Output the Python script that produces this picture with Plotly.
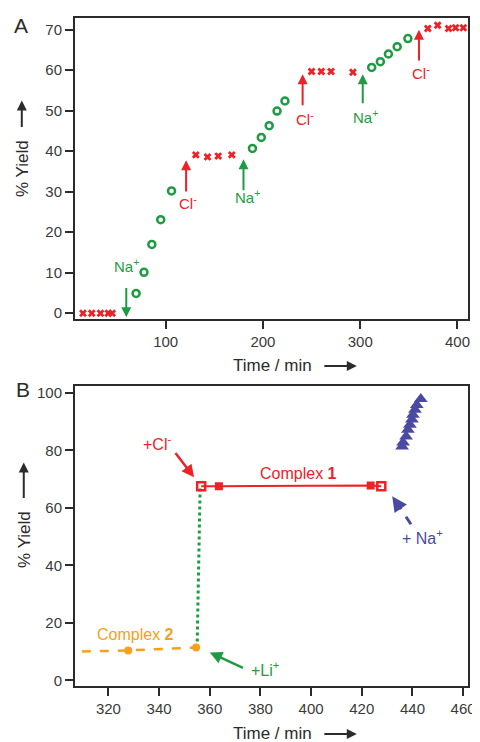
import plotly.graph_objects as go

# ---- Panel A data ----
a_cl_x = [15, 24, 33, 41, 45, 131, 143, 154, 168, 250, 260, 270, 292.5, 369.5, 379.6, 390.8, 398, 406]
a_cl_y = [0, 0, 0, 0, 0, 39.1, 38.6, 38.8, 39.1, 59.7, 59.7, 59.7, 59.5, 70.3, 71.1, 70.3, 70.5, 70.5]
a_na_x = [69.6, 77.7, 85.8, 94.9, 106, 189.2, 198.3, 206.4, 214.5, 222.6, 311.8, 320.7, 329, 338, 349]
a_na_y = [4.9, 10.1, 17, 23.1, 30.2, 40.7, 43.4, 46.3, 49.9, 52.4, 60.7, 62.1, 64, 65.8, 67.8]

# additions in panel A: x, tail y, tip y, label position, ion
a_add_x = [59.5, 121, 180, 240.8, 302.6, 360.4]
a_add_tail = [6.6, 29.7, 30, 51, 51.5, 62]
a_add_tip = [-1, 37.8, 38, 59, 59, 70]
a_lab_x = [60, 123, 184, 243, 305.7, 362]
a_lab_y = [11.8, 27.3, 28.7, 48.2, 48.6, 59.5]
a_ion = ['Na', 'Cl', 'Na', 'Cl', 'Na', 'Cl']

# ---- Panel B data ----
c1_x = [356.6, 363.6, 423.5, 427.7]
c1_y = [67.5, 67.5, 67.8, 67.5]
c2_x = [309.5, 327.8, 354.6]
c2_y = [10.0, 10.4, 11.4]
li_x = [355.0, 356.2]
li_y = [11.4, 67.5]
tri_x = [443.3, 441.7, 441.0, 440.2, 439.8, 439.0, 438.2, 437.5, 436.3, 435.9]
tri_y = [97.9, 95.8, 94.1, 92.4, 90.7, 88.9, 87.2, 84.8, 82.7, 81.3]

RED = '#ec2227'
GREEN = '#1e9b43'
ORANGE = '#f6a01e'
BLUE = '#4a4aa2'
DARK = '#2b2b2b'
TXT = '#3a3a3a'
FONT = 'Liberation Sans, Arial, sans-serif'

W, H = 480, 742
OFF = 8  # the page body margin shifts the figure by 8px


def px(x):
    return (x - OFF) / W


def py(y):
    return 1 - (y - OFF) / H


fig = go.Figure()

# Panel A
fig.add_trace(go.Scatter(x=a_cl_x, y=a_cl_y, mode='markers', xaxis='x', yaxis='y',
                         marker=dict(symbol='x', size=7, color=RED, line=dict(width=0))))
fig.add_trace(go.Scatter(x=a_na_x, y=a_na_y, mode='markers', xaxis='x', yaxis='y',
                         marker=dict(symbol='circle-open', size=7, color=GREEN, line=dict(width=2.5))))

# Panel B
fig.add_trace(go.Scatter(x=li_x, y=li_y, mode='lines', xaxis='x2', yaxis='y2',
                         line=dict(color=GREEN, width=3, dash='dot')))
fig.add_trace(go.Scatter(x=c1_x, y=c1_y, mode='lines', xaxis='x2', yaxis='y2',
                         line=dict(color=RED, width=2)))
fig.add_trace(go.Scatter(x=[c1_x[1], c1_x[2]], y=[c1_y[1], c1_y[2]], mode='markers', xaxis='x2', yaxis='y2',
                         marker=dict(symbol='square', size=8, color=RED)))
fig.add_trace(go.Scatter(x=[c1_x[0], c1_x[3]], y=[c1_y[0], c1_y[3]], mode='markers', xaxis='x2', yaxis='y2',
                         marker=dict(symbol='square-open', size=8, color=RED, line=dict(width=2.5))))
fig.add_trace(go.Scatter(x=c2_x, y=c2_y, mode='lines', xaxis='x2', yaxis='y2',
                         line=dict(color=ORANGE, width=2.5, dash='dash')))
fig.add_trace(go.Scatter(x=c2_x[1:], y=c2_y[1:], mode='markers', xaxis='x2', yaxis='y2',
                         marker=dict(symbol='circle', size=8, color=ORANGE)))
fig.add_trace(go.Scatter(x=tri_x, y=tri_y, mode='markers', xaxis='x2', yaxis='y2',
                         marker=dict(symbol='triangle-up', size=12, color=BLUE)))
# dashed shaft of the Na+ arrow
fig.add_trace(go.Scatter(x=[439.4, 434.0], y=[54.3, 61.5], mode='lines', xaxis='x2', yaxis='y2',
                         line=dict(color=BLUE, width=3, dash='dash')))

ann = []
for x, t0, t1, lx, ly, ion in zip(a_add_x, a_add_tail, a_add_tip, a_lab_x, a_lab_y, a_ion):
    col = GREEN if ion == 'Na' else RED
    sign = '+' if ion == 'Na' else '-'
    ann.append(dict(x=x, y=t1, ax=x, ay=t0, xref='x', yref='y', axref='x', ayref='y',
                    showarrow=True, arrowhead=2, arrowsize=1, arrowwidth=2, arrowcolor=col, text=''))
    ann.append(dict(x=lx, y=ly, xref='x', yref='y', showarrow=False,
                    text=f'{ion}<sup>{sign}</sup>', font=dict(size=15, color=col, family=FONT)))

# Panel B arrows and labels
ann.append(dict(x=353.8, y=70.6, ax=346, ay=79.6, xref='x2', yref='y2', axref='x2', ayref='y2',
                showarrow=True, arrowhead=2, arrowsize=1, arrowwidth=2.5, arrowcolor=RED, text=''))
ann.append(dict(x=339, y=82.7, xref='x2', yref='y2', showarrow=False,
                text='+Cl<sup>-</sup>', font=dict(size=16, color=RED, family=FONT)))
ann.append(dict(x=360, y=9.7, ax=373.7, ay=4.1, xref='x2', yref='y2', axref='x2', ayref='y2',
                showarrow=True, arrowhead=2, arrowsize=1, arrowwidth=2.5, arrowcolor=GREEN, text=''))
ann.append(dict(x=375.6, y=4.1, xref='x2', yref='y2', showarrow=False, xanchor='left',
                text='+Li<sup>+</sup>', font=dict(size=16, color=GREEN, family=FONT)))
ann.append(dict(x=432, y=64, ax=434.2, ay=61.2, xref='x2', yref='y2', axref='x2', ayref='y2',
                showarrow=True, arrowhead=2, arrowsize=1, arrowwidth=3, arrowcolor=BLUE, text=''))
ann.append(dict(x=444, y=49.8, xref='x2', yref='y2', showarrow=False,
                text='+ Na<sup>+</sup>', font=dict(size=16, color=BLUE, family=FONT)))
ann.append(dict(x=395, y=71.8, xref='x2', yref='y2', showarrow=False,
                text='Complex <b>1</b>', font=dict(size=16, color=RED, family=FONT)))
ann.append(dict(x=330.5, y=16, xref='x2', yref='y2', showarrow=False,
                text='Complex <b>2</b>', font=dict(size=16, color=ORANGE, family=FONT)))

# panel letters, axis titles with arrows
ann.append(dict(x=px(21), y=py(24), xref='paper', yref='paper', showarrow=False,
                xanchor='center', yanchor='middle',
                text='A', font=dict(size=21, color=DARK, family=FONT)))
ann.append(dict(x=px(23), y=py(390), xref='paper', yref='paper', showarrow=False,
                xanchor='center', yanchor='middle',
                text='B', font=dict(size=21, color=DARK, family=FONT)))
for ty, ay0, ay1, tx in [(167, 127, 99, 22), (540, 500, 463, 24)]:
    ann.append(dict(x=px(tx), y=py(ty), xref='paper', yref='paper', showarrow=False, textangle=-90,
                    xanchor='center', yanchor='middle',
                    text='% Yield', font=dict(size=17, color=DARK, family=FONT)))
    ann.append(dict(x=px(tx), y=py(ay1), xref='paper', yref='paper', ax=0, ay=ay0 - ay1,
                    showarrow=True, arrowhead=2, arrowsize=1, arrowwidth=2, arrowcolor=DARK, text=''))
for ty, tx in [(365, 276), (735, 276)]:
    ann.append(dict(x=px(tx), y=py(ty), xref='paper', yref='paper', showarrow=False,
                    xanchor='center', yanchor='middle',
                    text='Time / min', font=dict(size=17, color=DARK, family=FONT)))
    ann.append(dict(x=px(362), y=py(ty + 1), xref='paper', yref='paper', ax=-34, ay=0,
                    showarrow=True, arrowhead=2, arrowsize=1, arrowwidth=2, arrowcolor=DARK, text=''))

axis_style = dict(showline=True, mirror=True, linecolor=DARK, linewidth=2, ticks='outside',
                  ticklen=8, tickwidth=2, tickcolor=DARK, showgrid=False, zeroline=False,
                  tickfont=dict(size=15, color=TXT, family=FONT))

fig.update_layout(
    width=W, height=H,
    margin=dict(l=0, r=0, t=0, b=0),
    paper_bgcolor='white', plot_bgcolor='white',
    showlegend=False,
    font=dict(family=FONT),
    xaxis=dict(domain=[px(76), px(475)], range=[6.8, 411], tickvals=[100, 200, 300, 400],
               anchor='y', **axis_style),
    yaxis=dict(domain=[py(319), py(16)], range=[-1.5, 72.9], tickvals=list(range(0, 71, 10)),
               anchor='x', **axis_style),
    xaxis2=dict(domain=[px(76), px(475)], range=[306.8, 462], tickvals=list(range(320, 461, 20)),
                anchor='y2', **axis_style),
    yaxis2=dict(domain=[py(688), py(386)], range=[-2.1, 102.4], tickvals=list(range(0, 101, 20)),
                anchor='x2', **axis_style),
    annotations=ann,
)

fig.write_html("out.html")
